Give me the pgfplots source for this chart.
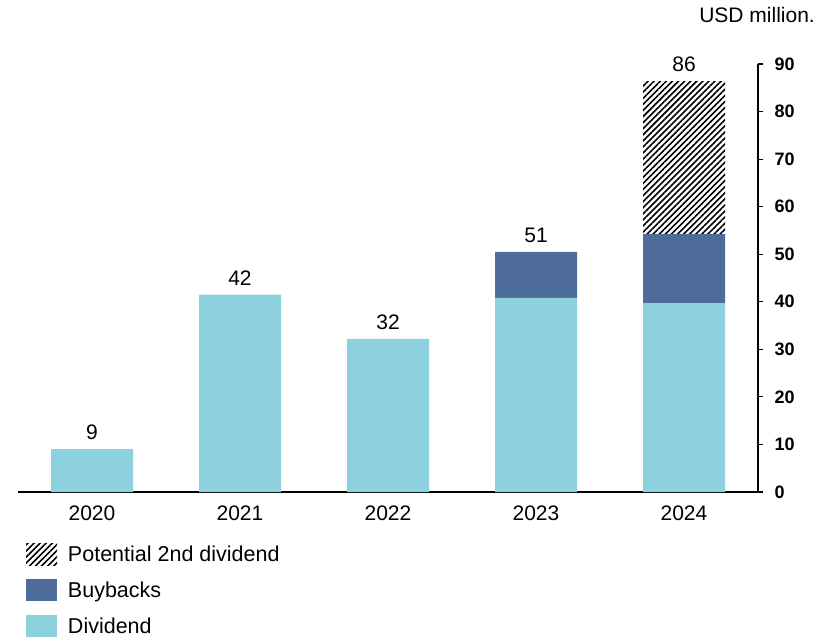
\documentclass[border=0pt]{standalone}
\usepackage{pgfplots}
\pgfplotsset{compat=1.18}
\usepackage{fontspec}
\setmainfont{Liberation Sans}
\usetikzlibrary{patterns.meta}
\definecolor{divc}{HTML}{8DD1DE}
\definecolor{buyc}{HTML}{4D6C9A}
\pgfplotstableread{
x y
0 9.0
1 41.5
2 32.2
3 40.8
4 39.7
}\dividend
\pgfplotstableread{
x y
0 0
1 0
2 0
3 9.7
4 14.5
}\buybacks
\pgfplotstableread{
x y
0 0
1 0
2 0
3 0
4 32.2
}\potential
\pgfplotstableread{
x y label
0 9.0 9
1 41.5 42
2 32.2 32
3 50.5 51
4 86.4 86
}\totals
\begin{document}
\begin{tikzpicture}
\useasboundingbox (0,0) rectangle (838pt,638pt);
\begin{axis}[
  at={(18pt,146pt)}, anchor=south west,
  scale only axis, width=740pt, height=428pt,
  xmin=-0.5, xmax=4.5, ymin=0, ymax=90,
  ybar stacked, bar width=82pt,
  axis x line=bottom, axis y line=right,
  axis line style={-, line width=1.4pt, black},
  xtick={0,1,2,3,4},
  xticklabels={2020,2021,2022,2023,2024},
  x tick style={draw=none},
  ytick={0,10,...,90},
  y tick style={line width=1.2pt, black},
  major tick length=5pt, tick align=outside,
  /pgf/number format/assume math mode=true,
  yticklabel style={font=\bfseries\fontsize{18}{21}\selectfont, anchor=west, xshift=8pt},
  xticklabel style={font=\fontsize{21}{25}\selectfont, yshift=-5pt},
  reverse legend,
  legend cell align=left,
  legend style={at={(0,0)}, anchor=north west, xshift=8pt, yshift=-51pt,
    draw=none, fill=none, inner sep=0pt, outer sep=0pt,
    font=\fontsize{21.5}{25}\selectfont, row sep=14pt,
    nodes={inner sep=0pt, outer sep=0pt},
    /tikz/every odd column/.append style={column sep=11pt}},
  legend image code/.code={\path[#1, draw=none] (0pt,-11pt) rectangle (31pt,11pt);},
  clip=false,
]
\addplot[fill=divc, draw=none] table[x=x,y=y] {\dividend};
\addlegendentry{Dividend}
\addplot[fill=buyc, draw=none] table[x=x,y=y] {\buybacks};
\addlegendentry{Buybacks}
\addplot[draw=none, pattern={Lines[angle=45, distance=4.3pt, line width=1.6pt]}, pattern color=black]
  table[x=x,y=y] {\potential};
\addlegendentry{Potential 2nd dividend}
\node[anchor=base east, font=\fontsize{21}{25}\selectfont, inner sep=0pt] at (rel axis cs:1,1) [xshift=57pt, yshift=41pt] {USD million.};
\end{axis}
\begin{axis}[
  at={(18pt,146pt)}, anchor=south west,
  scale only axis, width=740pt, height=428pt,
  xmin=-0.5, xmax=4.5, ymin=0, ymax=90,
  hide axis, clip=false,
]
\addplot[only marks, mark=none, nodes near coords, point meta=explicit symbolic,
  nodes near coords style={font=\fontsize{21}{25}\selectfont, text=black, anchor=south, inner sep=0pt, yshift=9pt}]
  table[x=x,y=y,meta=label] {\totals};
\end{axis}
\end{tikzpicture}
\end{document}
